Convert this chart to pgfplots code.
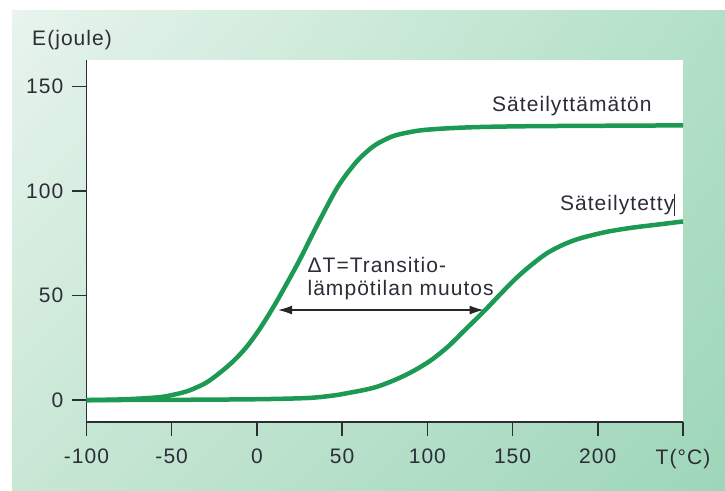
\documentclass[border=0pt]{standalone}
\usepackage{fontspec}
\setmainfont{Liberation Sans}[LetterSpace=5]
\usepackage{pgfplots}
\pgfplotsset{compat=1.18}
\usetikzlibrary{arrows.meta,shadings}
\definecolor{cgreen}{RGB}{28,154,84}
\definecolor{txt}{RGB}{45,45,55}
\definecolor{bgUL}{RGB}{232,244,237}
\definecolor{bgUR}{RGB}{178,224,199}
\definecolor{bgLL}{RGB}{200,231,213}
\definecolor{bgLR}{RGB}{158,214,185}
\begin{document}
\fontsize{21bp}{23bp}\selectfont
\begin{tikzpicture}[x=1bp,y=1bp]
\useasboundingbox (0,0) rectangle (725,491);
\fill[white] (0,0) rectangle (725,491);
\shade[upper left=bgUL, upper right=bgUR, lower left=bgLL, lower right=bgLR] (12,0) rectangle (725,480);
\node[anchor=west, inner sep=0, text=txt] at (32,451) {E(joule)};
\begin{axis}[
 at={(86.5bp,69bp)}, anchor=south west,
 scale only axis, width=596.5bp, height=362bp,
 xmin=-100, xmax=250, ymin=-10.5, ymax=162.8,
 axis x line=bottom, axis y line=left,
 axis line style={-, line width=1.5bp, color=txt},
 axis background/.style={fill=white},
 xtick={-100,-50,0,50,100,150,200,250},
 xticklabels={-100,-50,0,50,100,150,200,T(°C)},
 ytick={0,50,100,150}, yticklabels={0,50,100,150},
 tick align=outside, major tick length=14bp,
 tick style={line width=1.5bp, color=txt},
 tick label style={text=txt},
 xticklabel style={yshift=-6bp},
 yticklabel style={xshift=-2bp},
 clip=false,
]
\addplot[cgreen, line width=4.5bp, smooth] coordinates {
(-100,0) (-80,0.3) (-65,0.9) (-55,1.6) (-45,3.3) (-39,4.8) (-30,8.2) (-22,12.9)
(-14,18.5) (-6,25.5) (2,34.5) (10,45) (18,56.5) (25,67) (33,80) (41,92.6)
(47,101.5) (53,108.6) (60,115.5) (68,121.3) (75,124.6) (82,126.9) (95,129)
(110,130) (130,130.7) (160,131.1) (200,131.3) (250,131.5)};
\addplot[cgreen, line width=4.5bp, smooth] coordinates {
(-100,0) (-50,0.1) (0,0.4) (30,1) (45,2.2) (55,3.6) (65,5.2) (72,6.8) (82,10)
(92,14) (102,19) (112,25.5) (122,33.5) (133,42.3) (142,50) (151,57.5) (160,64)
(170,70.2) (180,74.5) (190,77.5) (205,80.5) (220,82.5) (235,84) (250,85.5)};
\node[text=txt, inner sep=0] at (axis cs:184.8,140.5) {Säteilyttämätön};
\node[text=txt, inner sep=0] at (axis cs:211.6,93.4) {Säteilytetty\rule[-0.25em]{0.8bp}{1.05em}};
\node[anchor=west, align=left, inner sep=0, text=txt] at (axis cs:29.6,58.2) {ΔT=Transitio-\\lämpötilan muutos};
\draw[{Latex[length=14bp,width=9bp]}-{Latex[length=14bp,width=9bp]}, line width=1.2bp, color=black!85] (axis cs:12.4,43.1) -- (axis cs:133,43.1);
\end{axis}
\end{tikzpicture}
\end{document}
